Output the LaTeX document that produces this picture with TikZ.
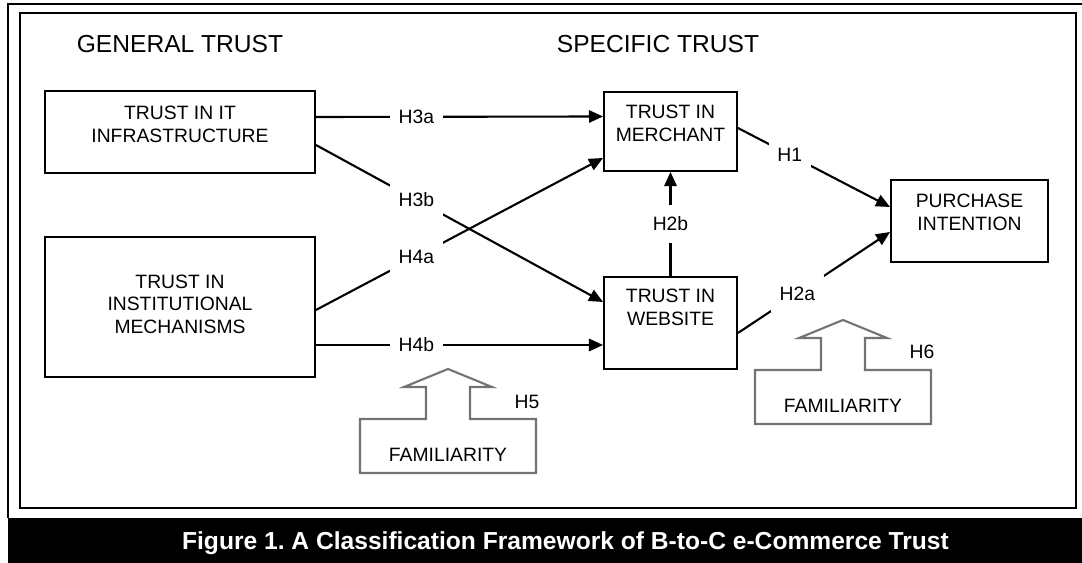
\documentclass[tikz,border=0pt]{standalone}
\usepackage{fontspec}
\setmainfont{Liberation Sans}
\usetikzlibrary{arrows.meta,calc}
\newcommand{\boxpad}[1]{\rule[-#1]{0pt}{#1}}

\begin{document}
\begin{tikzpicture}[x=0.02cm,y=-0.02cm,
	>={Triangle[length=8pt,width=7pt]},
	box/.style={draw,line width=1.1pt,inner sep=0pt,align=center,font=\fontsize{11}{12.9}\selectfont},
	hyp/.style={fill=white,inner xsep=5pt,inner ysep=6.5pt,font=\fontsize{11}{13}\selectfont},
	link/.style={->,line width=1.2pt},
	famline/.style={draw=black!55,line width=1.2pt,line join=miter},
	plain/.style={font=\fontsize{11}{13}\selectfont},
	heading/.style={font=\fontsize{14}{17}\selectfont}]
	\useasboundingbox (0,0) rectangle (1082,563);
	\draw[line width=0.9pt] (1082,4) -- (8,4) -- (8,518);
	\draw[line width=1pt] (20,13) rectangle (1076,508);
	\fill (8,518) rectangle (1082,563);
	\node[heading] (gen) at (180,44) {GENERAL TRUST};
	\node[heading] (spec) at (658,44) {SPECIFIC TRUST};
	\node[box,minimum width=5.4cm,minimum height=1.64cm] (infra) at (180,132) {TRUST IN IT\\INFRASTRUCTURE\boxpad{9pt}};
	\node[box,minimum width=5.4cm,minimum height=2.8cm] (inst) at (180,307) {TRUST IN\\INSTITUTIONAL\\MECHANISMS\boxpad{3.4pt}};
	\node[box,minimum width=2.66cm,minimum height=1.58cm] (mer) at (670.5,131.5) {TRUST IN\\MERCHANT\boxpad{9.6pt}};
	\node[box,minimum width=2.66cm,minimum height=1.84cm] (web) at (670.5,323) {TRUST IN\\WEBSITE\boxpad{17.6pt}};
	\node[box,minimum width=3.14cm,minimum height=1.64cm] (pur) at (969.5,221) {PURCHASE\\INTENTION\boxpad{10.2pt}};
	\draw[link] ($(infra.east)+(0,-15)$) -- node[hyp,pos=0.35] (h3a) {H3a} ($(mer.west)+(0,-15)$);
	\draw[link] ($(infra.east)+(0,13)$) -- node[hyp,pos=0.35] (h3b) {H3b} ($(web.west)+(0,-21)$);
	\draw[link] ($(inst.east)+(0,3)$) -- node[hyp,pos=0.35] (h4a) {H4a} ($(mer.west)+(0,26.5)$);
	\draw[link] ($(inst.east)+(0,38)$) -- node[hyp,pos=0.35] (h4b) {H4b} ($(web.west)+(0,22)$);
	\draw[link] (web.north) -- node[hyp] (h2b) {H2b} (mer.south);
	\draw[link] ($(mer.east)+(0,-3.5)$) -- node[hyp,pos=0.34] (h1) {H1} ($(pur.west)+(0,-14)$);
	\draw[link] ($(web.east)+(0,10)$) -- node[hyp,pos=0.39] (h2a) {H2a} ($(pur.west)+(0,11)$);
	\foreach \cx/\top/\n in {448/419/1,843/370/2}{
		\draw[famline] (\cx-22,\top) -- ++(-66,0) -- ++(0,54) -- ++(176,0) -- ++(0,-54) -- ++(-66,0)
			-- ++(0,-32) -- ++(22,0) -- ++(-44,-18) -- ++(-44,18) -- ++(22,0) -- cycle;
		\node[plain] (fam\n) at (\cx,\top+36) {FAMILIARITY};
	}
	\node[plain] (h5) at (527,402) {H5};
	\node[plain] (h6) at (922,352) {H6};
	\node[white,font=\bfseries\fontsize{14}{17}\selectfont,anchor=base] (cap) at (565.5,550) {Figure 1.\ A Classification Framework of B-to-C e-Commerce Trust};
\end{tikzpicture}
\end{document}
